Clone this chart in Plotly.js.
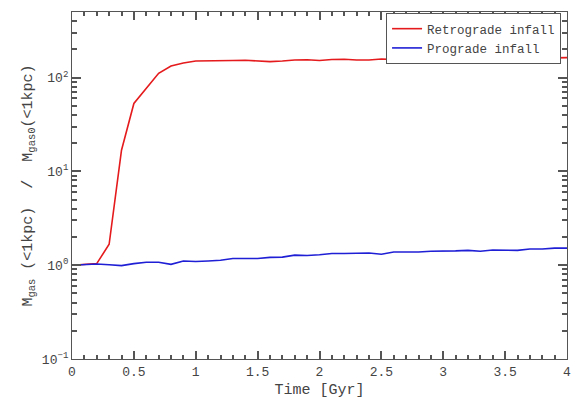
<!DOCTYPE html>
<html>
<head>
<meta charset="utf-8">
<script src="https://cdn.plot.ly/plotly-3.0.1.min.js"></script>
<style>
  html, body { margin: 0; padding: 0; background: #fff; }
  #chart { width: 571px; height: 399px; }
</style>
</head>
<body>
<div id="chart"></div>
<script>
// Simulation output times (Gyr)
const timeGyr = [0.0, 0.1, 0.2, 0.3, 0.4, 0.5, 0.6, 0.7, 0.8, 0.9,
                 1.0, 1.1, 1.2, 1.3, 1.4, 1.5, 1.6, 1.7, 1.8, 1.9,
                 2.0, 2.1, 2.2, 2.3, 2.4, 2.5, 2.6, 2.7, 2.8, 2.9,
                 3.0, 3.1, 3.2, 3.3, 3.4, 3.5, 3.6, 3.7, 3.8, 3.9, 4.0];

// Central gas mass (<1 kpc) normalised to its initial value
const retrogradeRatio = [1.00, 1.02, 1.04, 1.67, 16.8, 53, 76, 111, 133, 143,
                         150, 150, 150, 152, 153, 150, 148, 150, 154, 155,
                         152, 156, 157, 154, 154, 158, 157, 155, 157, 159,
                         157, 158, 160, 160, 159, 158, 161, 160, 162, 162, 163];

const progradeRatio = [1.00, 1.02, 1.03, 1.01, 0.99, 1.04, 1.075, 1.075, 1.02, 1.11,
                       1.095, 1.11, 1.13, 1.18, 1.18, 1.18, 1.21, 1.22, 1.28, 1.27,
                       1.29, 1.33, 1.33, 1.34, 1.35, 1.31, 1.38, 1.38, 1.38, 1.41,
                       1.41, 1.42, 1.44, 1.41, 1.45, 1.45, 1.44, 1.49, 1.49, 1.52, 1.52];

const seriesNames = ['Retrograde infall', 'Prograde infall'];

const yTickVals = [0.1, 1, 10, 100];
const yTickText = ['10<sup>\u22121</sup>', '10<sup>0</sup>', '10<sup>1</sup>', '10<sup>2</sup>'];

const monoFont = 'Courier New, Liberation Mono, monospace';
const axisColor = '#555555';
const textColor = '#444444';

const traces = [
  {
    x: timeGyr, y: retrogradeRatio, name: seriesNames[0],
    type: 'scatter', mode: 'lines',
    line: { color: '#e41a1c', width: 1.6 }
  },
  {
    x: timeGyr, y: progradeRatio, name: seriesNames[1],
    type: 'scatter', mode: 'lines',
    line: { color: '#1f1fd6', width: 1.6 }
  }
];

const layout = {
  width: 571, height: 399,
  margin: { l: 72, r: 4, t: 12, b: 40 },
  paper_bgcolor: '#ffffff',
  plot_bgcolor: '#ffffff',
  font: { family: monoFont, size: 13, color: textColor },
  showlegend: true,
  legend: {
    x: 0.988, y: 0.997, xanchor: 'right', yanchor: 'top',
    bgcolor: '#ffffff', bordercolor: axisColor, borderwidth: 1,
    font: { family: monoFont, size: 12.5, color: textColor }
  },
  xaxis: {
    range: [0, 4],
    dtick: 0.5, tick0: 0,
    ticks: 'inside', ticklen: 8, tickwidth: 2, tickcolor: axisColor,
    minor: { dtick: 0.1, tick0: 0, ticks: 'inside', ticklen: 4, tickwidth: 2, tickcolor: axisColor },
    showline: true, linecolor: axisColor, linewidth: 1, mirror: 'ticks',
    gridcolor: 'rgba(0,0,0,0)',
    zerolinecolor: axisColor,
    ticklabeloverflow: 'allow',
    tickfont: { family: monoFont, size: 13, color: textColor },
    title: { text: 'Time [Gyr]', font: { family: monoFont, size: 15, color: textColor } }
  },
  yaxis: {
    type: 'log',
    range: [-1, Math.log10(500)],
    tickmode: 'array', tickvals: yTickVals, ticktext: yTickText,
    ticks: 'inside', ticklen: 9, tickwidth: 2, tickcolor: axisColor,
    minor: { dtick: 'D1', ticks: 'inside', ticklen: 5, tickwidth: 2, tickcolor: axisColor },
    showline: true, linecolor: axisColor, linewidth: 1, mirror: 'ticks',
    gridcolor: 'rgba(0,0,0,0)',
    ticklabeloverflow: 'allow',
    tickfont: { family: monoFont, size: 13, color: textColor },
    title: {
      text: 'M<sub>gas</sub> (&lt;1kpc)  /  M<sub>gas0</sub>(&lt;1kpc)',
      font: { family: monoFont, size: 15, color: textColor }
    }
  }
};

Plotly.newPlot('chart', traces, layout, { displayModeBar: false });
</script>
</body>
</html>
